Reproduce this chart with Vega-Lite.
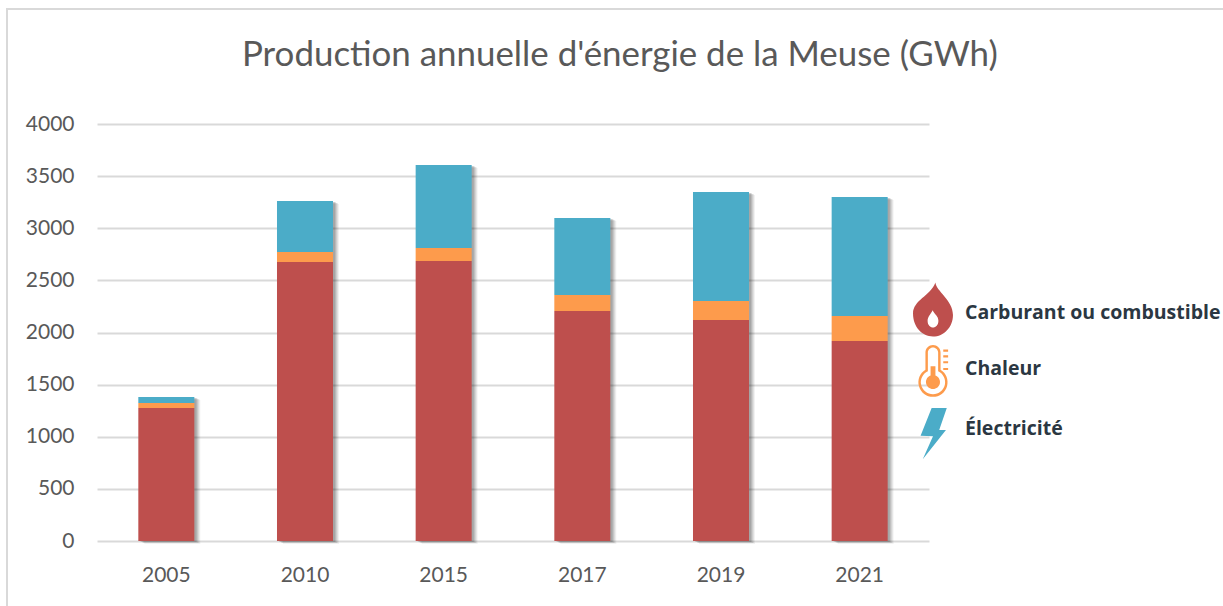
{
"$schema":"https://vega.github.io/schema/vega-lite/v6.json",
"width":1230,"height":610,
"autosize":{"type":"none"},
"padding":{"left":7,"top":9,"right":0,"bottom":0},
"background":"white",
"view":{"stroke":"#d9d9d9","strokeWidth":2,"fill":"white"},
"title":{"text":"Production annuelle d'énergie de la Meuse (GWh)","font":"Lato","fontSize":34.9,"fontWeight":"normal","color":"#595959","anchor":"start","frame":"group","dx":235,"offset":-92,"baseline":"alphabetic"},
"data":{"values":[
{"annee":"2005","serie":"Carburant ou combustible","gwh":1276},{"annee":"2005","serie":"Chaleur","gwh":48},{"annee":"2005","serie":"Électricité","gwh":57},
{"annee":"2010","serie":"Carburant ou combustible","gwh":2676},{"annee":"2010","serie":"Chaleur","gwh":96},{"annee":"2010","serie":"Électricité","gwh":489},
{"annee":"2015","serie":"Carburant ou combustible","gwh":2686},{"annee":"2015","serie":"Chaleur","gwh":124},{"annee":"2015","serie":"Électricité","gwh":797},
{"annee":"2017","serie":"Carburant ou combustible","gwh":2206},{"annee":"2017","serie":"Chaleur","gwh":154},{"annee":"2017","serie":"Électricité","gwh":738},
{"annee":"2019","serie":"Carburant ou combustible","gwh":2120},{"annee":"2019","serie":"Chaleur","gwh":182},{"annee":"2019","serie":"Électricité","gwh":1046},
{"annee":"2021","serie":"Carburant ou combustible","gwh":1918},{"annee":"2021","serie":"Chaleur","gwh":240},{"annee":"2021","serie":"Électricité","gwh":1142}
]},
"encoding":{
"x":{"field":"annee","type":"nominal","title":null,"scale":{"range":[90,922],"paddingInner":0.596,"paddingOuter":0.298},
"axis":{"orient":"bottom","offset":-72,"labelAngle":0,"labelFont":"Lato","labelFontSize":21,"labelColor":"#595959","labelPadding":17,"ticks":false,"domain":false,"grid":false}},
"y":{"field":"gwh","type":"quantitative","title":null,"stack":"zero","scale":{"domain":[0,4000],"range":[532,115],"nice":false},
"axis":{"orient":"left","offset":-90,"format":"d","values":[0,500,1000,1500,2000,2500,3000,3500,4000],"labelFont":"Lato","labelFontSize":21,"labelColor":"#595959","labelPadding":23,"ticks":false,"domain":false,"grid":true,"gridColor":"#d9d9d9","gridWidth":2}},
"order":{"field":"serie","type":"nominal"}
},
"layer":[
{"mark":{"type":"bar","xOffset":6,"yOffset":3,"fill":"#000000","opacity":0.05},"encoding":{"detail":{"field":"serie"}}},
{"mark":{"type":"bar","xOffset":5,"yOffset":2,"fill":"#000000","opacity":0.07},"encoding":{"detail":{"field":"serie"}}},
{"mark":{"type":"bar","xOffset":4,"yOffset":2,"fill":"#000000","opacity":0.08},"encoding":{"detail":{"field":"serie"}}},
{"mark":{"type":"bar","xOffset":3,"yOffset":1,"fill":"#000000","opacity":0.1},"encoding":{"detail":{"field":"serie"}}},
{"mark":{"type":"bar","xOffset":2,"yOffset":1,"fill":"#000000","opacity":0.1},"encoding":{"detail":{"field":"serie"}}},
{"mark":{"type":"bar"},"encoding":{"color":{"field":"serie","type":"nominal","scale":{"domain":["Carburant ou combustible","Chaleur","Électricité"],"range":["#BE4F4D","#FD9B4C","#4BACC8"]}}}},
{"mark":{"type":"point","filled":true,"size":0,"opacity":1},
"encoding":{"x":{"value":0},"y":{"value":0},
"color":{"field":"serie","type":"nominal","title":null,"scale":{"domain":["Carburant ou combustible","Chaleur","Électricité"],"range":["#BE4F4D","#FD9B4C","#4BACC8"]},
"legend":{"orient":"none","legendX":899,"legendY":277,"padding":0,"symbolSize":2916,"symbolOpacity":1,"symbolStrokeWidth":0,"rowPadding":5,"labelOffset":5,"labelFont":"Open Sans","labelFontWeight":"bold","labelFontSize":19.5,"labelColor":"#2B3742","labelLimit":400,"title":null}},
"shape":{"field":"serie","type":"nominal","title":null,"scale":{"domain":["Carburant ou combustible","Chaleur","Électricité"],"range":[
"M0.09,-1.13 C0.1,-0.83 0.74,-0.48 0.74,0.07 C0.74,0.52 0.4,0.87 0,0.87 C-0.4,0.87 -0.74,0.52 -0.74,0.02 C-0.74,-0.48 -0.1,-0.63 0.09,-1.13 Z M-0.02,-0.1 C-0.05,0.02 -0.2,0.12 -0.2,0.29 C-0.2,0.45 -0.1,0.54 0,0.54 C0.1,0.54 0.2,0.45 0.2,0.29 C0.2,0.12 0.08,0.07 -0.02,-0.1 Z",
"M-0.28,-0.61 A0.28,0.28 0 0 1 0.28,-0.61 L0.28,0.03 A0.54,0.54 0 1 1 -0.28,0.03 Z M-0.19,-0.61 L-0.19,0.08 A0.45,0.45 0 1 0 0.19,0.08 L0.19,-0.61 A0.19,0.19 0 0 0 -0.19,-0.61 Z M-0.09,-0.1 L0.09,-0.1 L0.09,0.24 A0.26,0.26 0 1 1 -0.09,0.24 Z M0.38,-0.72 L0.56,-0.72 L0.56,-0.64 L0.38,-0.64 Z M0.38,-0.51 L0.56,-0.51 L0.56,-0.43 L0.38,-0.43 Z M0.38,-0.29 L0.56,-0.29 L0.56,-0.21 L0.38,-0.21 Z M0.38,-0.04 L0.56,-0.04 L0.56,0.04 L0.38,0.04 Z",
"M-0.05,-0.78 L0.51,-0.78 L0.23,0.04 L0.48,0.04 L-0.38,1.12 L0,0.27 L-0.46,0.25 Z"
]}}
}}
]
}
